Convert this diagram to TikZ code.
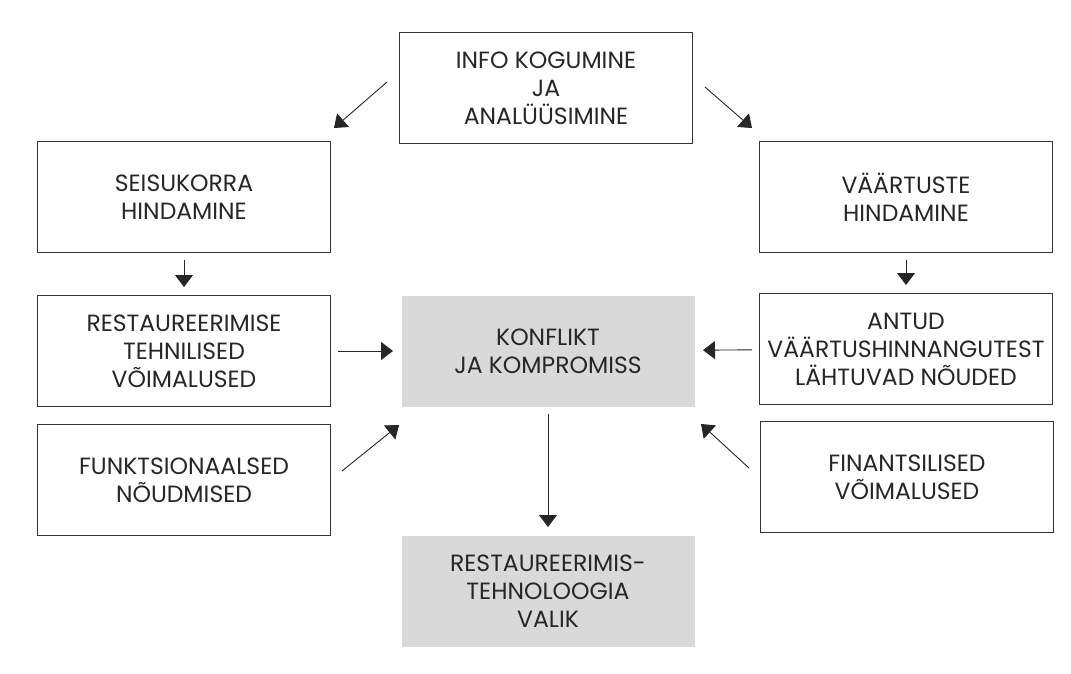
\documentclass[tikz,border=0pt]{standalone}
\usepackage{fontspec}
\setmainfont{Poppins}
\usetikzlibrary{arrows.meta}

\tikzset{
  kast/.style={draw=black!80, line width=1pt, minimum width=293pt, minimum height=111pt,
    align=center, text=black!85, font=\fontsize{23.5}{28}\selectfont},
  hall/.style={kast, draw=none, fill=black!15},
  pil/.style={-{Triangle[length=12pt,width=18pt]}, line width=0.9pt, black!85}
}

\begin{document}
\begin{tikzpicture}[x=1pt,y=-1pt]
  \useasboundingbox (0,0) rectangle (1071,673);
  \node[kast] (info) at (546,88) {INFO KOGUMINE\\JA\\ANALÜÜSIMINE};
  \node[kast] (seisukord) at (184,197) {SEISUKORRA\\HINDAMINE};
  \node[kast] (vaartus) at (906,197) {VÄÄRTUSTE\\HINDAMINE};
  \node[kast] (tehn) at (184,351) {RESTAUREERIMISE\\TEHNILISED\\VÕIMALUSED};
  \node[hall] (konflikt) at (548,351) {KONFLIKT\\JA KOMPROMISS};
  \node[kast] (nouded) at (906,349) {ANTUD\\VÄÄRTUSHINNANGUTEST\\LÄHTUVAD NÕUDED};
  \node[kast] (funkts) at (184,480) {FUNKTSIONAALSED\\NÕUDMISED};
  \node[kast] (finants) at (907,477) {FINANTSILISED\\VÕIMALUSED};
  \node[hall] (valik) at (548,591) {RESTAUREERIMIS-\\TEHNOLOOGIA\\VALIK};
  % otse nooled
  \foreach \a/\b in {seisukord/tehn,vaartus/nouded,konflikt/valik,tehn/konflikt,nouded/konflikt}
    \draw[pil, shorten <=7pt, shorten >=8pt] (\a) -- (\b);
  % viltu nooled
  \draw[pil] ([shift={(-12pt,6pt)}]info.west) -- ([shift={(3pt,13pt)}]seisukord.north east);
  \draw[pil] ([shift={(12pt,1pt)}]info.east) -- ([shift={(-7pt,13pt)}]vaartus.north west);
  \draw[pil] ([shift={(11pt,9pt)}]funkts.east) -- ([shift={(-2pt,-18pt)}]konflikt.south west);
  \draw[pil] ([shift={(-11pt,9pt)}]finants.west) -- ([shift={(6pt,-17pt)}]konflikt.south east);
\end{tikzpicture}
\end{document}
